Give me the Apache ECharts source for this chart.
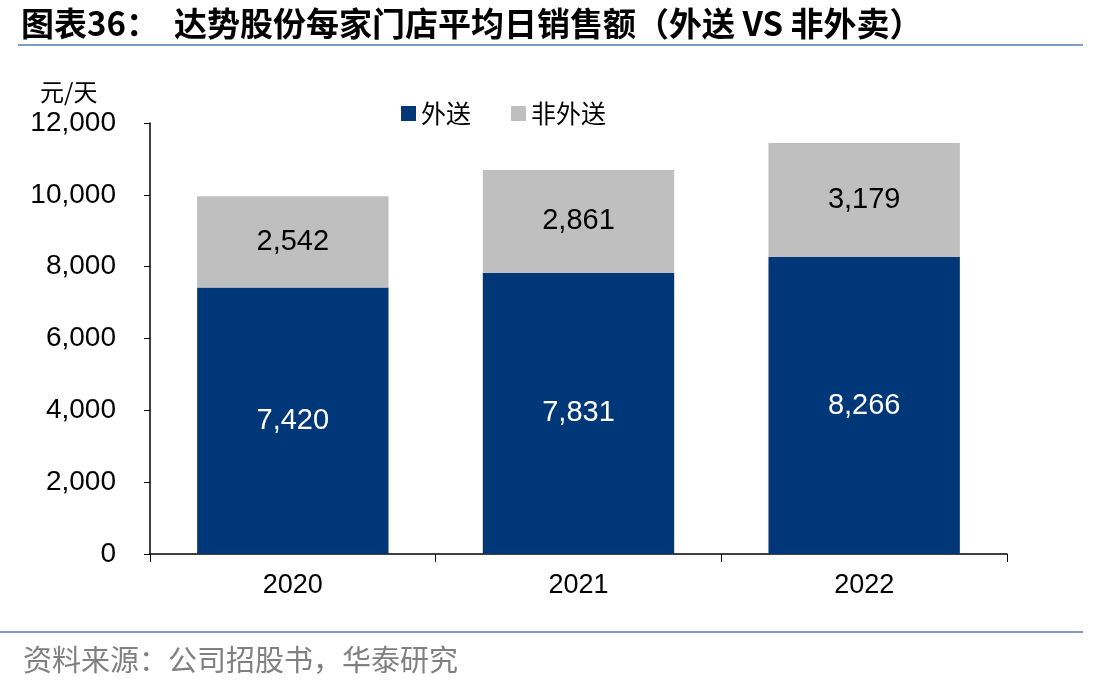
<!DOCTYPE html>
<html>
<head>
<meta charset="utf-8">
<script src="https://cdn.jsdelivr.net/npm/echarts@6/dist/echarts.min.js"></script>
<style>
  html, body { margin: 0; padding: 0; background: #fff; }
  #chart { width: 1112px; height: 686px; }
</style>
</head>
<body>
<div id="chart"></div>
<script>
// 达势股份每家门店平均日销售额
const years = ['2020', '2021', '2022'];
const delivery = [7420, 7831, 8266];      // 外送
const nonDelivery = [2542, 2861, 3179];   // 非外送

const fmt = v => v.toLocaleString('en-US');
const cjk = '"Noto Sans CJK SC", "Noto Sans", sans-serif';
const latin = '"Liberation Sans", Arial, sans-serif';

const chart = echarts.init(document.getElementById('chart'));

chart.setOption({
    animation: false,
    backgroundColor: '#fff',
    title: [
        {
            text: '图表36：  达势股份每家门店平均日销售额（外送 VS 非外卖）',
            left: 16,
            top: 2,
            textStyle: { fontSize: 33, fontWeight: 'bold', color: '#000', fontFamily: cjk }
        },
        {
            text: '资料来源：公司招股书，华泰研究',
            left: 18,
            top: 640,
            textStyle: { fontSize: 29, fontWeight: 'normal', color: '#808080', fontFamily: cjk }
        }
    ],
    graphic: [
        { type: 'line', shape: { x1: 18, y1: 45, x2: 1083, y2: 45 }, style: { stroke: '#7f9cc4', lineWidth: 2 } },
        { type: 'line', shape: { x1: 0, y1: 632, x2: 1083, y2: 632 }, style: { stroke: '#7f9cc4', lineWidth: 2 } },
        { type: 'text', left: 40, top: 80, style: { text: '元/天', fontSize: 24, fill: '#000', fontFamily: cjk } }
    ],
    legend: {
        data: ['外送', '非外送'],
        left: 396,
        top: 96,
        itemWidth: 15,
        itemHeight: 15,
        itemGap: 40,
        icon: 'rect',
        textStyle: { fontSize: 25, color: '#000', fontFamily: cjk }
    },
    grid: { left: 150, right: 105, top: 123, bottom: 132 },
    xAxis: {
        type: 'category',
        data: years,
        axisLine: { lineStyle: { color: '#000', width: 1.5 } },
        axisTick: { show: true, length: 8, lineStyle: { color: '#000' } },
        axisLabel: { fontSize: 27, color: '#000', margin: 18, fontFamily: latin }
    },
    yAxis: {
        type: 'value',
        min: 0,
        max: 12000,
        interval: 2000,
        axisLine: { show: true, lineStyle: { color: '#000', width: 1.5 } },
        axisTick: { show: true, length: 6, lineStyle: { color: '#000' } },
        splitLine: { show: false },
        axisLabel: { fontSize: 28, color: '#000', margin: 34, fontFamily: latin, formatter: v => fmt(v) }
    },
    series: [
        {
            name: '外送',
            type: 'bar',
            stack: 'total',
            data: delivery,
            barCategoryGap: '33%',
            itemStyle: { color: '#003778' },
            label: { show: true, position: 'inside', color: '#fff', fontSize: 29, fontFamily: latin, formatter: p => fmt(p.value) }
        },
        {
            name: '非外送',
            type: 'bar',
            stack: 'total',
            data: nonDelivery,
            itemStyle: { color: '#bfbfbf' },
            label: { show: true, position: 'inside', color: '#000', fontSize: 29, fontFamily: latin, formatter: p => fmt(p.value) }
        }
    ]
});
</script>
</body>
</html>
